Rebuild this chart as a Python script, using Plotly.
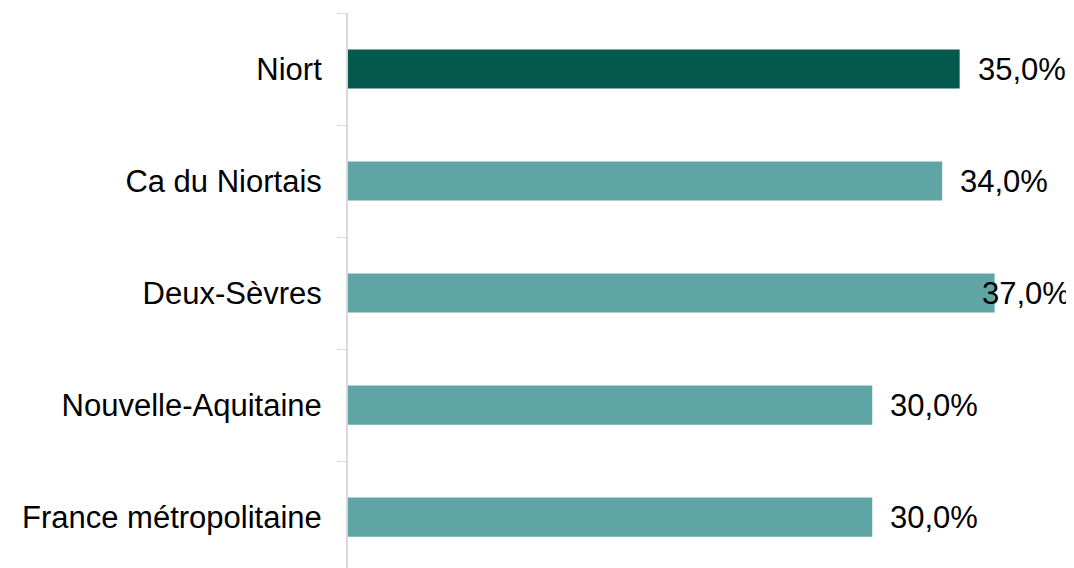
import plotly.graph_objects as go

# Données
territoires = ["Niort", "Ca du Niortais", "Deux-Sèvres", "Nouvelle-Aquitaine", "France métropolitaine"]
valeurs = [35.0, 34.0, 37.0, 30.0, 30.0]
couleurs = ["#03594b", "#5fa5a5", "#5fa5a5", "#5fa5a5", "#5fa5a5"]

# la page html ajoute une marge de 8 px autour du graphique
W, H = 1066, 560
ML, MR, MT, MB = 340, 6, 5, 0
XMAX = 41.2
FONT = dict(family="Liberation Sans, Arial, sans-serif", size=31, color="#000000")

fig = go.Figure()

fig.add_trace(go.Bar(
    y=territoires,
    x=valeurs,
    orientation="h",
    marker=dict(color=couleurs, line=dict(width=0)),
    width=0.35,
    hoverinfo="skip",
))

# Étiquettes de valeurs (recalées dans la zone de tracé si elles débordent)
px_par_unite = (W - ML - MR) / XMAX
largeur_label = 88
ecart = 19
for t, v in zip(territoires, valeurs):
    texte = f"{v:.1f}".replace(".", ",") + "%"
    if v * px_par_unite + ecart + largeur_label > (W - ML - MR):
        fig.add_annotation(x=XMAX, y=t, text=texte, showarrow=False,
                           xanchor="right", yanchor="middle", xshift=4, font=FONT)
    else:
        fig.add_annotation(x=v, y=t, text=texte, showarrow=False,
                           xanchor="left", yanchor="middle", xshift=ecart - 3, font=FONT)

fig.update_layout(
    width=W, height=H,
    margin=dict(l=ML, r=MR, t=MT, b=MB),
    paper_bgcolor="white",
    plot_bgcolor="white",
    showlegend=False,
    font=FONT,
    xaxis=dict(range=[0, XMAX], visible=False),
    yaxis=dict(
        type="category",
        range=[4.455, -0.5],
        showline=True, linecolor="#d9d9d9", linewidth=2,
        ticks="outside", ticklen=9, tickcolor="#d9d9d9", tickwidth=1,
        tickson="boundaries",
        ticklabelstandoff=18,
        showgrid=False, zeroline=False,
        tickfont=FONT,
    ),
)

fig.write_html("out.html")
